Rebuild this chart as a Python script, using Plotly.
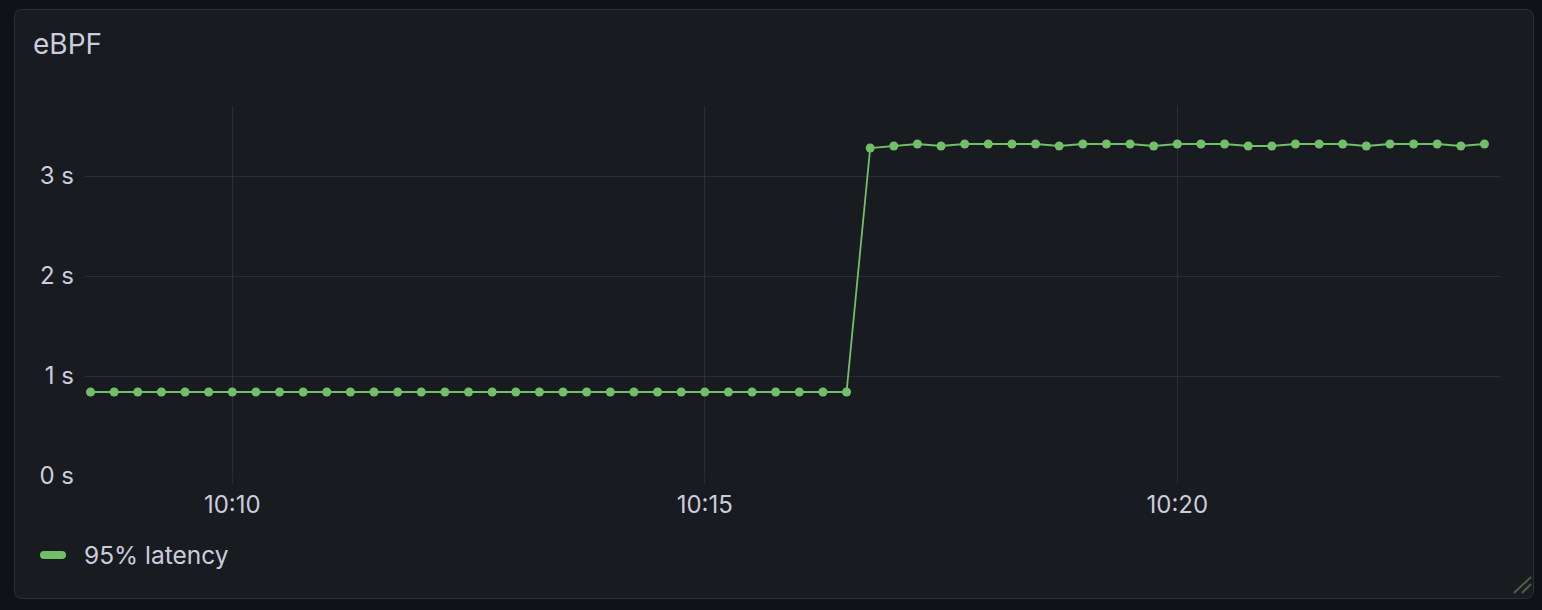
import plotly.graph_objects as go
import pandas as pd

# ---- data ----
start_time = "2024-01-01 10:08:30"
step_seconds = 15
low_values = [0.84] * 33
high_values = [3.28, 3.30, 3.32, 3.30, 3.32, 3.32, 3.32, 3.32, 3.30, 3.32,
               3.32, 3.32, 3.30, 3.32, 3.32, 3.32, 3.30, 3.30, 3.32, 3.32,
               3.32, 3.30, 3.32, 3.32, 3.32, 3.30, 3.32]
latency = low_values + high_values
times = pd.date_range(start=start_time, periods=len(latency), freq=f"{step_seconds}s")
x_tick_vals = ["2024-01-01 10:10:00", "2024-01-01 10:15:00", "2024-01-01 10:20:00"]
x_tick_text = ["10:10", "10:15", "10:20"]
y_tick_vals = [0, 1, 2, 3]
y_tick_text = ["0 s", "1 s", "2 s", "3 s"]
x_range = ["2024-01-01 10:08:26.5", "2024-01-01 10:23:25.5"]
y_range = [0, 3.7]
series_name = "95% latency"
title_text = "eBPF"

# ---- style ----
W, H = 1542, 610
L, R, T, B = 85, 1501, 106, 476
GREEN = "#73BF69"
TEXT = "rgb(204,204,220)"
GRID = "rgba(204,204,220,0.10)"
FONT = "Inter"

def px(x):
    return (x - L) / (R - L)

def py(y):
    return (B - y) / (B - T)

fig = go.Figure()
fig.add_trace(go.Scatter(
    x=times, y=latency, mode="lines+markers", name=series_name,
    line=dict(color=GREEN, width=1.8),
    marker=dict(color=GREEN, size=9),
    showlegend=False,
))

# panel background with rounded corners
x0, x1, y0, y1, r = 14.5, 1533.5, 9.5, 598.5, 8
path = (f"M {px(x0+r)},{py(y0)} L {px(x1-r)},{py(y0)} Q {px(x1)},{py(y0)} {px(x1)},{py(y0+r)} "
        f"L {px(x1)},{py(y1-r)} Q {px(x1)},{py(y1)} {px(x1-r)},{py(y1)} "
        f"L {px(x0+r)},{py(y1)} Q {px(x0)},{py(y1)} {px(x0)},{py(y1-r)} "
        f"L {px(x0)},{py(y0+r)} Q {px(x0)},{py(y0)} {px(x0+r)},{py(y0)} Z")
shapes = [dict(type="path", path=path, xref="paper", yref="paper",
               fillcolor="#181b1f", line=dict(color="#2e3036", width=1), layer="below")]

# legend swatch (rounded bar)
lx0, lx1, lyc, lh = 40, 66, 555, 8
rr = lh / 2
sw = (f"M {px(lx0+rr)},{py(lyc-rr)} L {px(lx1-rr)},{py(lyc-rr)} Q {px(lx1)},{py(lyc-rr)} {px(lx1)},{py(lyc)} "
      f"Q {px(lx1)},{py(lyc+rr)} {px(lx1-rr)},{py(lyc+rr)} L {px(lx0+rr)},{py(lyc+rr)} "
      f"Q {px(lx0)},{py(lyc+rr)} {px(lx0)},{py(lyc)} Q {px(lx0)},{py(lyc-rr)} {px(lx0+rr)},{py(lyc-rr)} Z")
shapes.append(dict(type="path", path=sw, xref="paper", yref="paper",
                   fillcolor=GREEN, line=dict(width=0)))

# resize handle
for (a, b, c, d) in [(1514, 593, 1531, 577), (1522, 593, 1531, 584)]:
    shapes.append(dict(type="line", xref="paper", yref="paper",
                       x0=px(a), y0=py(b), x1=px(c), y1=py(d),
                       line=dict(color="#4d5e4b", width=2)))

annotations = [
    dict(text=title_text, x=px(31), y=py(44), xref="paper", yref="paper",
         xanchor="left", yanchor="middle", showarrow=False,
         font=dict(family=FONT, size=28, color=TEXT)),
    dict(text=series_name, x=px(82), y=py(555), xref="paper", yref="paper",
         xanchor="left", yanchor="middle", showarrow=False,
         font=dict(family=FONT, size=24.5, color=TEXT)),
]

fig.update_layout(
    width=W, height=H,
    margin=dict(l=L, r=W - R, t=T, b=H - B, pad=0),
    paper_bgcolor="#111217", plot_bgcolor="rgba(0,0,0,0)",
    font=dict(family=FONT, size=24, color=TEXT),
    shapes=shapes, annotations=annotations,
    xaxis=dict(type="date", range=x_range, tickvals=x_tick_vals, ticktext=x_tick_text,
               showgrid=True, gridcolor=GRID, gridwidth=1, zeroline=False, showline=False,
               ticks="outside", ticklen=7, tickcolor=GRID, tickwidth=1,
               tickfont=dict(family=FONT, size=24, color=TEXT), ticklabelstandoff=0),
    yaxis=dict(range=y_range, tickvals=y_tick_vals, ticktext=y_tick_text,
               showgrid=True, gridcolor=GRID, gridwidth=1, zeroline=False, showline=False,
               tickfont=dict(family=FONT, size=24, color=TEXT), ticklabelstandoff=10),
)

fig.write_html("out.html", config={"displayModeBar": False},
               post_script="document.body.style.margin='0';document.body.style.padding='0';document.body.style.overflow='hidden';")
